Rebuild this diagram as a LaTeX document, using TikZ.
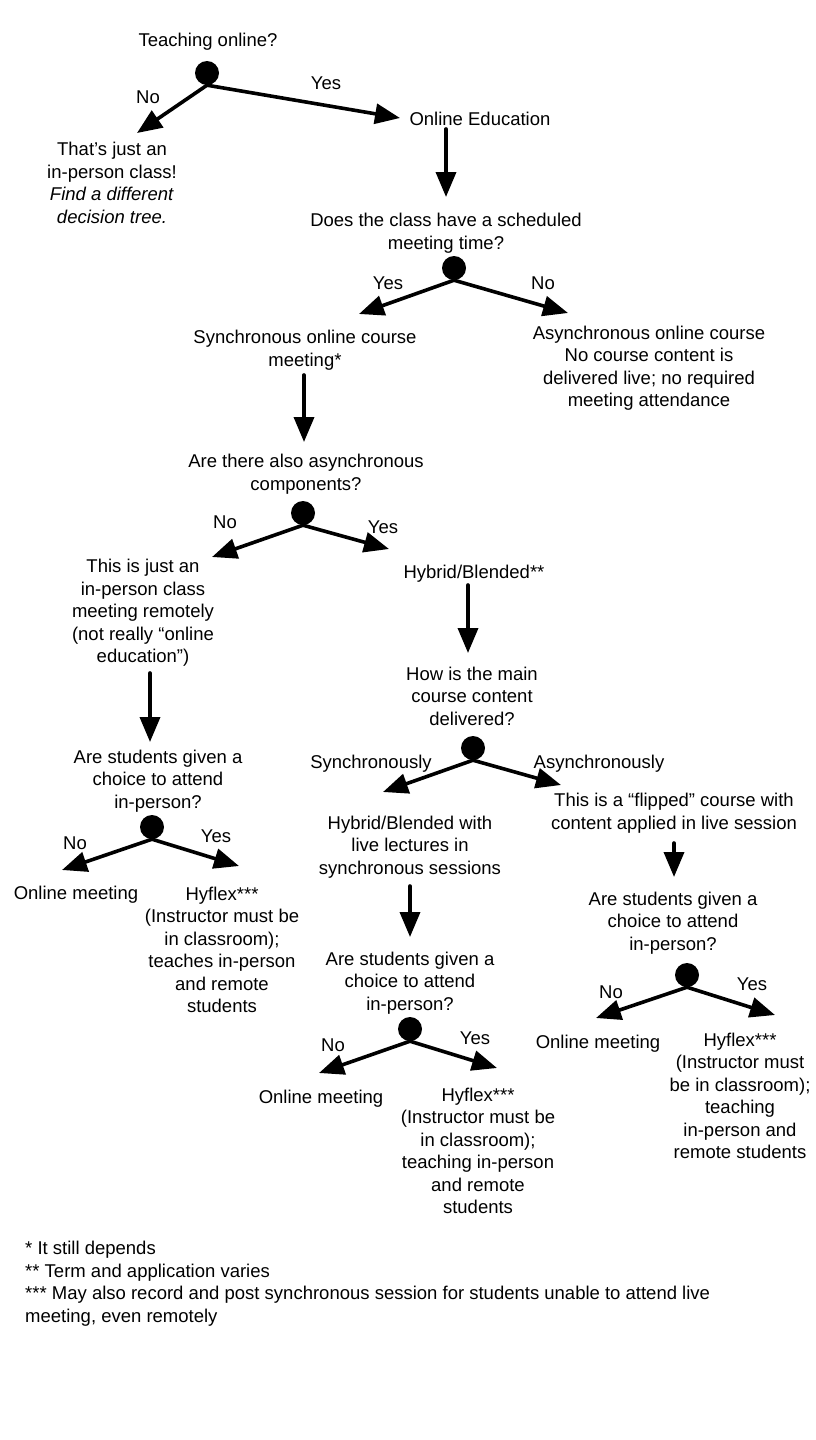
\documentclass[tikz,border=0pt]{standalone}
\usepackage{fontspec}
\setmainfont{Liberation Sans}
\usetikzlibrary{arrows.meta}
\tikzset{
  txt/.style={align=center,inner sep=0pt,font=\fontsize{18.5}{22.5}\selectfont},
  lbl/.style={inner sep=0pt,font=\fontsize{18.5}{22.5}\selectfont},
  dot/.style={circle,fill=black,minimum size=24pt,inner sep=0pt},
  branch/.style={->,line width=3.6pt},
}

\begin{document}
\begin{tikzpicture}[line cap=round,line join=round,>={Triangle[length=25pt,width=20pt]},x=1pt,y=-1pt]
            \fill [white] (0,0) rectangle (816,1440);
            \useasboundingbox (0,0) rectangle (816,1440);
            % questions and outcomes
            \node [txt] (qOnline) at (208,42) {Teaching online?};
            \node [txt] (inPerson) at (112,183) {That’s just an\\in-person class!\\\textit{Find a different}\\\textit{decision tree.}};
            \node [txt] (onlEdu) at (480,119) {Online Education};
            \node [txt] (qSched) at (446,233) {Does the class have a scheduled\\meeting time?};
            \node [txt] (syncCourse) at (305,350) {Synchronous online course\\meeting*};
            \node [txt] (asyncCourse) at (649,368) {Asynchronous online course\\No course content is\\delivered live; no required\\meeting attendance};
            \node [txt] (qAsync) at (306,474) {Are there also asynchronous\\components?};
            \node [txt] (remote) at (143,613) {This is just an\\in-person class\\meeting remotely\\(not really “online\\education”)};
            \node [txt] (hybrid) at (474,574) {Hybrid/Blended**};
            \node [txt] (qMain) at (472,696) {How is the main\\course content\\delivered?};
            \node [txt] (qChoiceA) at (158,781) {Are students given a\\choice to attend\\in-person?};
            \node [txt] (onlineA) at (76,895) {Online meeting};
            \node [txt] (hyflexA) at (222,950) {Hyflex***\\(Instructor must be\\in classroom);\\teaches in-person\\and remote\\students};
            \node [txt] (hybLive) at (410,847) {Hybrid/Blended with\\live lectures in\\synchronous sessions};
            \node [txt] (flipped) at (674,813) {This is a “flipped” course with\\content applied in live session};
            \node [txt] (qChoiceB) at (410,983) {Are students given a\\choice to attend\\in-person?};
            \node [txt] (onlineB) at (321,1099) {Online meeting};
            \node [txt] (hyflexB) at (478,1151) {Hyflex***\\(Instructor must be\\in classroom);\\teaching in-person\\and remote\\students};
            \node [txt] (qChoiceC) at (673,923) {Are students given a\\choice to attend\\in-person?};
            \node [txt] (onlineC) at (598,1044) {Online meeting};
            \node [txt] (hyflexC) at (740,1096) {Hyflex***\\(Instructor must\\be in classroom);\\teaching\\in-person and\\remote students};
            \node [txt,align=left,anchor=north west] (notes) at (25,1241) {* It still depends\\** Term and application varies\\*** May also record and post synchronous session for students unable to attend live\\meeting, even remotely};
            % decision dots
            \node [dot] (d1) at (207,73) {};
            \node [dot] (d2) at (454,268) {};
            \node [dot] (d3) at (303,513) {};
            \node [dot] (d4) at (152,827) {};
            \node [dot] (d5) at (473,748) {};
            \node [dot] (d6) at (410,1029) {};
            \node [dot] (d7) at (687,975) {};
            % arrow ends
            \coordinate (t1no) at (137,133);
            \coordinate (t1yes) at (400,118);
            \coordinate (t2yes) at (359,314);
            \coordinate (t2no) at (568,313);
            \coordinate (t3no) at (212,557);
            \coordinate (t3yes) at (389,549);
            \coordinate (t4no) at (62,870);
            \coordinate (t4yes) at (239,866);
            \coordinate (t5sync) at (383,792);
            \coordinate (t5async) at (561,785);
            \coordinate (t6no) at (319,1073);
            \coordinate (t6yes) at (497,1068);
            \coordinate (t7no) at (596,1018);
            \coordinate (t7yes) at (775,1015);
            \coordinate (v1a) at (446,129);
            \coordinate (v1b) at (446,197);
            \coordinate (v2a) at (304,375);
            \coordinate (v2b) at (304,442);
            \coordinate (v3a) at (468,585);
            \coordinate (v3b) at (468,653);
            \coordinate (v4a) at (150,673);
            \coordinate (v4b) at (150,742);
            \coordinate (v5a) at (410,886);
            \coordinate (v5b) at (410,937);
            \coordinate (v6a) at (674,843);
            \coordinate (v6b) at (674,877);
            % branches
            \draw [branch] (d1.south) -- (t1no);
            \draw [branch] (d1.south) -- (t1yes);
            \draw [branch] (d2.south) -- (t2yes);
            \draw [branch] (d2.south) -- (t2no);
            \draw [branch] (d3.south) -- (t3no);
            \draw [branch] (d3.south) -- (t3yes);
            \draw [branch] (d4.south) -- (t4no);
            \draw [branch] (d4.south) -- (t4yes);
            \draw [branch] (d5.south) -- (t5sync);
            \draw [branch] (d5.south) -- (t5async);
            \draw [branch] (d6.south) -- (t6no);
            \draw [branch] (d6.south) -- (t6yes);
            \draw [branch] (d7.south) -- (t7no);
            \draw [branch] (d7.south) -- (t7yes);
            \draw [branch] (v1a) -- (v1b);
            \draw [branch] (v2a) -- (v2b);
            \draw [branch] (v3a) -- (v3b);
            \draw [branch] (v4a) -- (v4b);
            \draw [branch] (v5a) -- (v5b);
            \draw [branch] (v6a) -- (v6b);
            % answers
            \node [lbl] (l1no) at (148,97) {No};
            \node [lbl] (l1yes) at (326,83) {Yes};
            \node [lbl] (l2yes) at (388,283) {Yes};
            \node [lbl] (l2no) at (543,283) {No};
            \node [lbl] (l3no) at (225,522) {No};
            \node [lbl] (l3yes) at (383,527) {Yes};
            \node [lbl] (l4no) at (75,843) {No};
            \node [lbl] (l4yes) at (216,836) {Yes};
            \node [lbl] (l5sync) at (371,764) {Synchronously};
            \node [lbl] (l5async) at (599,764) {Asynchronously};
            \node [lbl] (l6no) at (333,1045) {No};
            \node [lbl] (l6yes) at (475,1038) {Yes};
            \node [lbl] (l7no) at (611,992) {No};
            \node [lbl] (l7yes) at (752,984) {Yes};
\end{tikzpicture}
\end{document}
